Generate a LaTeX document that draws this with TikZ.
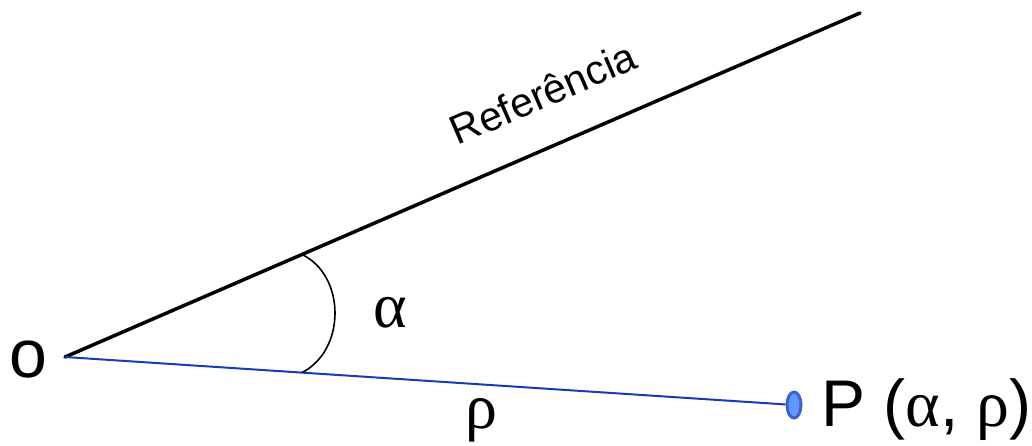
\documentclass[tikz,border=0pt]{standalone}
\usepackage{fontspec}
\setmainfont{Liberation Sans}
\newfontfamily\greekfont{Liberation Serif}
\usetikzlibrary{positioning,shapes.geometric}

\begin{document}
\begin{tikzpicture}[
x=1pt,y=-1pt,
refline/.style={line width=3.5pt,line cap=round},
radius/.style={line width=2pt,draw={rgb,255:red,20;green,60;blue,180}},
angarc/.style={line width=1.6pt},
lbl/.style={inner sep=0pt},
ptmark/.style={ellipse,draw={rgb,255:red,60;green,100;blue,200},line width=3pt,
fill={rgb,255:red,100;green,150;blue,255},minimum width=14pt,minimum height=26pt,inner sep=0pt}
]
\useasboundingbox (0,0) rectangle (1032,445);

\coordinate (O) at (65,357);
\coordinate (R) at (860,13);
\coordinate (A1) at (302,254.4);
\coordinate (A2) at (302,372.6);
\node[ptmark] (Pm) at (794,405) {};

\draw[refline] (O)--(R);
\draw[radius] (O)--(Pm);
\draw[angarc] (A1) .. controls (346,276) and (346,350) .. (A2);

\node[lbl,font=\fontsize{68}{68}\selectfont] (o) at (28,360) {o};
\node[lbl,font=\fontsize{41}{41}\selectfont,rotate=23.4] (ref) at (543,93) {Referência};
\node[lbl,font=\fontsize{64}{64}\greekfont] (alpha) at (390,313) {α};
\node[lbl,font=\fontsize{64}{64}\greekfont] (rho) at (481,420) {ρ};
\node[lbl,anchor=base west,font=\fontsize{66}{66}\selectfont] (P) at (821,426)
{P ({\greekfont α}, {\greekfont ρ})};
\end{tikzpicture}
\end{document}
